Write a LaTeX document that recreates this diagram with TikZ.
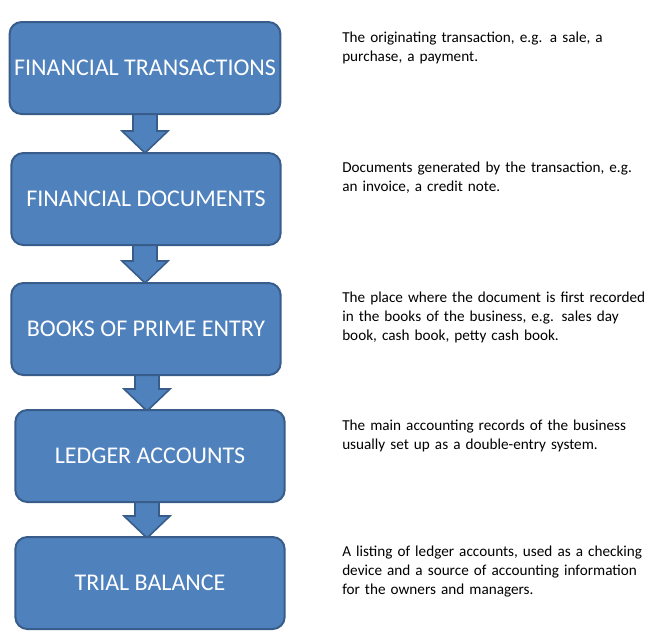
\documentclass[tikz,border=0pt]{standalone}
\usepackage{fontspec}
\setmainfont{Carlito}
\definecolor{boxblue}{HTML}{4F81BD}
\definecolor{boxline}{HTML}{385D8A}
\begin{document}
\begin{tikzpicture}[x=0.75pt,y=-0.75pt,
        stage/.style={draw=boxline, line width=1.5pt, fill=boxblue, rounded corners=9pt, text=white,
            minimum width=202pt, minimum height=69pt, font=\fontsize{18}{21}\selectfont},
        note/.style={anchor=north west, align=left, text width=240pt, inner sep=0pt, font=\fontsize{11.4}{14}\selectfont}
        ]
        \useasboundingbox (0,0) rectangle (661,636);

        % Block arrows (behind the boxes)
        \foreach \ya/\yb/\xc in {105/153/145, 235/283/145, 365/411/147, 492/538/147}{
            \draw[boxline, line width=1.2pt, fill=boxblue]
              (\xc-12,\ya) -- (\xc+12,\ya) -- (\xc+12,\yb-22) -- (\xc+23,\yb-22)
              -- (\xc,\yb) -- (\xc-23,\yb-22) -- (\xc-12,\yb-22) -- cycle;
        }

        % Stages
        \node[stage] (FT) at (145,68) {FINANCIAL TRANSACTIONS};
        \node[stage] (FD) at (146,199) {FINANCIAL DOCUMENTS};
        \node[stage] (BPE) at (146,329) {BOOKS OF PRIME ENTRY};
        \node[stage] (LA) at (150,456) {LEDGER ACCOUNTS};
        \node[stage] (TB) at (150,583) {TRIAL BALANCE};

        % Notes
        \node[note] (nFT) at (342,32) {The originating transaction, e.g. a sale, a\\purchase, a payment.};
        \node[note] (nFD) at (342,162) {Documents generated by the transaction, e.g.\\an invoice, a credit note.};
        \node[note] (nBPE) at (342,292) {The place where the document is first recorded\\in the books of the business, e.g. sales day\\book, cash book, petty cash book.};
        \node[note] (nLA) at (342,420) {The main accounting records of the business\\usually set up as a double-entry system.};
        \node[note] (nTB) at (342,546) {A listing of ledger accounts, used as a checking\\device and a source of accounting information\\for the owners and managers.};
\end{tikzpicture}
\end{document}
